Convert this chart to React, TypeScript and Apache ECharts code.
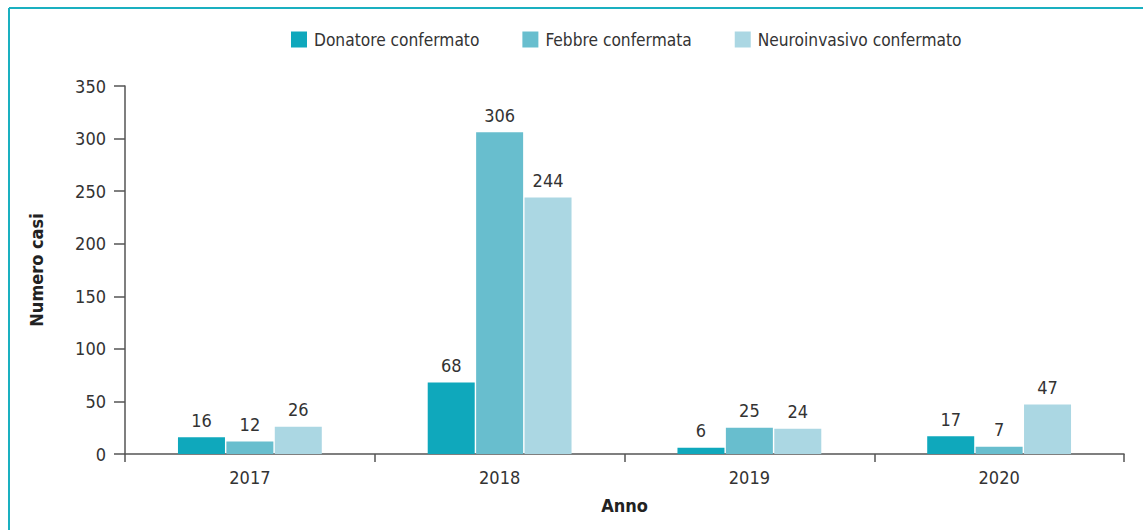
import React, { useEffect, useRef } from "react";
import * as echarts from "echarts";

const categories = ["2017", "2018", "2019", "2020"];
const donatore = [16, 68, 6, 17];
const febbre = [12, 306, 25, 7];
const neuro = [26, 244, 24, 47];
const seriesNames = ["Donatore confermato", "Febbre confermata", "Neuroinvasivo confermato"];
const colors = ["#0fa8bc", "#68bece", "#abd7e3"];

const FONT = "'DejaVu Sans Condensed', sans-serif";

export default function App() {
  const ref = useRef<HTMLDivElement>(null);
  useEffect(() => {
    if (!ref.current) return;
    const chart = echarts.init(ref.current, undefined, { renderer: "svg" });
    const mk = (name: string, data: number[], color: string) => ({
      name,
      type: "bar",
      data,
      barWidth: 47,
      barGap: "3%",
      itemStyle: { color },
      label: {
        show: true,
        position: "top",
        distance: 8,
        color: "#333",
        fontSize: 18,
        fontFamily: FONT,
      },
    });
    chart.setOption({
      animation: false,
      textStyle: { fontFamily: FONT },
      legend: {
        top: 31,
        left: 291,
        padding: 0,
        itemWidth: 16,
        itemHeight: 16,
        itemGap: 43,
        icon: "rect",
        textStyle: { fontSize: 17.2, color: "#333", fontFamily: FONT, padding: [0, 0, 0, 2] },
        data: seriesNames,
      },
      grid: { left: 125, right: 19, top: 86, bottom: 76 },
      xAxis: {
        type: "category",
        data: categories,
        name: "Anno",
        nameLocation: "middle",
        nameGap: 42,
        nameTextStyle: { fontSize: 18, fontWeight: "bold", color: "#222", fontFamily: FONT },
        axisLine: { lineStyle: { color: "#555", width: 1.5 } },
        axisTick: { show: true, length: 8, lineStyle: { color: "#555", width: 1.5 } },
        axisLabel: { fontSize: 18, color: "#333", margin: 14, fontFamily: FONT },
      },
      yAxis: {
        type: "value",
        min: 0,
        max: 350,
        interval: 50,
        name: "Numero casi",
        nameLocation: "middle",
        nameGap: 80,
        nameTextStyle: { fontSize: 18, fontWeight: "bold", color: "#222", fontFamily: FONT },
        axisLine: { show: true, lineStyle: { color: "#555", width: 1.5 } },
        axisTick: { show: true, length: 11, lineStyle: { color: "#555", width: 1.5 } },
        axisLabel: { fontSize: 18, color: "#333", margin: 19, fontFamily: FONT },
        splitLine: { show: false },
      },
      graphic: [
        { type: "line", shape: { x1: 9, y1: 8, x2: 1143, y2: 8 }, style: { stroke: "#1ab0c0", lineWidth: 2 } },
        { type: "line", shape: { x1: 9, y1: 8, x2: 9, y2: 530 }, style: { stroke: "#1ab0c0", lineWidth: 2 } },
      ],
      series: [
        mk(seriesNames[0], donatore, colors[0]),
        mk(seriesNames[1], febbre, colors[1]),
        mk(seriesNames[2], neuro, colors[2]),
      ],
    });
    return () => chart.dispose();
  }, []);
  return (
    <div
      ref={ref}
      style={{ position: "absolute", left: 0, top: 0, width: 1143, height: 530, background: "#fff" }}
    />
  );
}
